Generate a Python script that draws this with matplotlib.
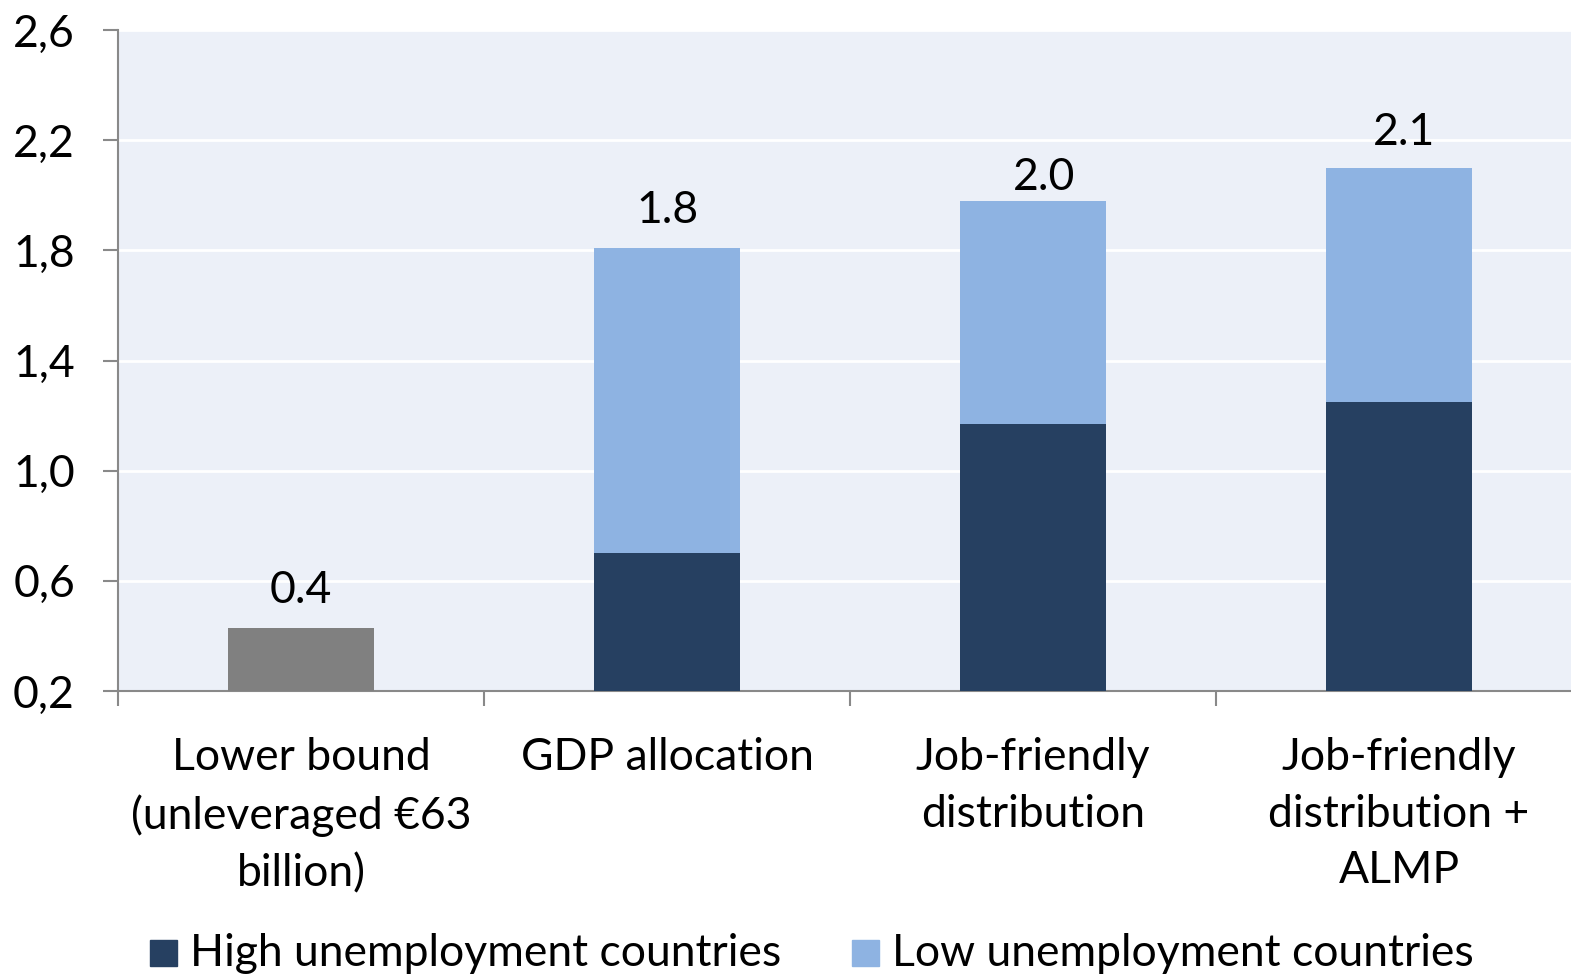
import matplotlib
matplotlib.use("Agg")
import matplotlib.pyplot as plt
from matplotlib.patches import Rectangle
import numpy as np

categories = ["Lower bound\n(unleveraged €63\nbillion)", "GDP allocation",
              "Job-friendly\ndistribution", "Job-friendly\ndistribution +\nALMP"]
lower_bound = [0.43, 0.0, 0.0, 0.0]
high_unemp = [0.0, 0.70, 1.17, 1.25]
low_unemp = [0.0, 1.11, 0.81, 0.85]
yticks = [0.2, 0.6, 1.0, 1.4, 1.8, 2.2, 2.6]
legend_labels = ["High unemployment countries", "Low unemployment countries"]

# label offsets (points) as placed in the original
label_dx = [0, 0, 8, 3.6]
label_dy = [18, 18, 7.5, 16]

DARK = "#264061"
LIGHT = "#8EB3E2"
GRAY = "#808080"
BG = "#ECF0F8"
AXC = "#898989"
FONT = "Lato"
FS = 32

plt.rcParams['font.family'] = [FONT, 'DejaVu Sans']

W, H = 1571, 974
fig = plt.figure(figsize=(W / 100, H / 100), dpi=100)
ax = fig.add_axes([118 / W, 1 - 691 / H, 1464 / W, (691 - 30) / H])
ax.set_facecolor(BG)

x = np.arange(len(categories))
bw = 0.4
ax.bar(x, lower_bound, bw, color=GRAY, zorder=3)
ax.bar(x, high_unemp, bw, color=DARK, zorder=3)
ax.bar(x, low_unemp, bw, bottom=high_unemp, color=LIGHT, zorder=3)

totals = [a + b + c for a, b, c in zip(lower_bound, high_unemp, low_unemp)]
for xi, t, dx, dy in zip(x, totals, label_dx, label_dy):
    ax.annotate(f"{t:.1f}", (xi, t), xytext=(dx, dy), textcoords="offset points",
                ha="center", va="baseline", fontsize=FS, color="black", zorder=4)

ax.set_xlim(-0.5, 3.5)
ax.set_ylim(0.2, 2.6)
ax.set_yticks(yticks)
ax.set_yticklabels([f"{v:.1f}".replace(".", ",") for v in yticks], fontsize=FS)
ax.yaxis.grid(True, color="white", lw=2, zorder=1)
ax.set_axisbelow(True)

ax.set_xticks(np.arange(-0.5, 4.0, 1.0))
ax.set_xticklabels([])
for i, c in enumerate(categories):
    ax.text(i, -0.07, c, transform=ax.get_xaxis_transform(), ha="center", va="top",
            fontsize=FS, linespacing=1.47)

ax.tick_params(axis="both", length=11, width=1.5, color=AXC, direction="out")
ax.tick_params(axis="y", pad=20)
for s in ["top", "right"]:
    ax.spines[s].set_visible(False)
for s in ["left", "bottom"]:
    ax.spines[s].set_color(AXC)
    ax.spines[s].set_linewidth(1.5)

# legend
for (x0, col, lab) in [(150, DARK, legend_labels[0]), (852, LIGHT, legend_labels[1])]:
    fig.patches.append(Rectangle((x0 / W, 1 - 966 / H), 27 / W, 26 / H,
                                 transform=fig.transFigure, color=col))
    fig.text((x0 + 40) / W, 1 - 966 / H, lab, fontsize=FS, ha="left", va="baseline")

fig.savefig("out.png", dpi=100)
